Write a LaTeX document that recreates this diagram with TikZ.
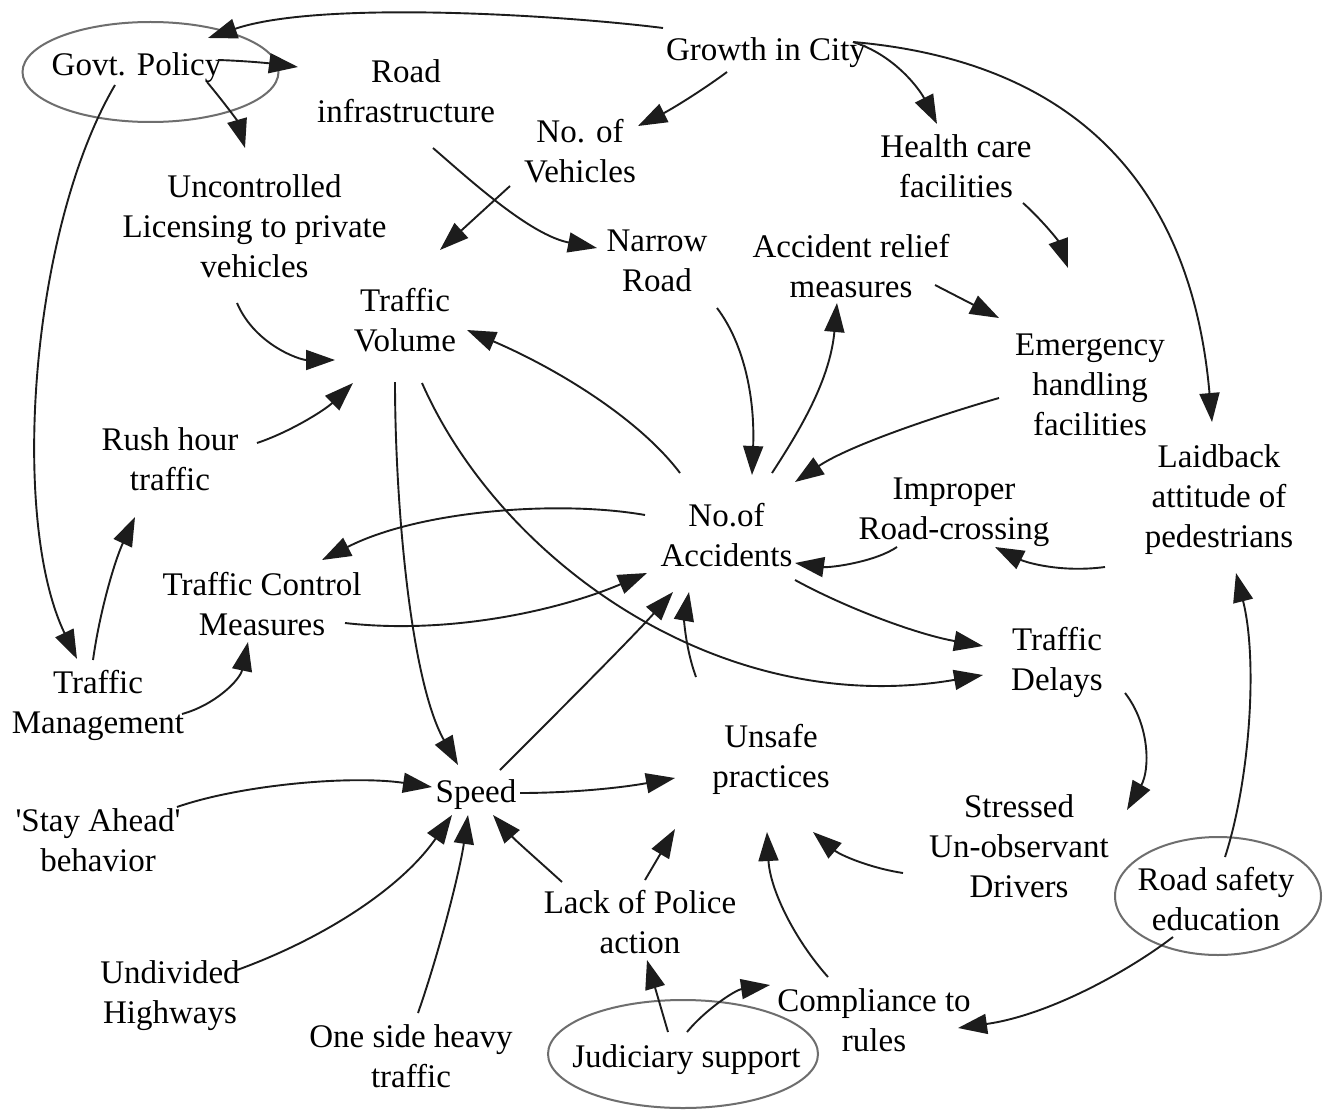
\documentclass[tikz,border=0pt]{standalone}
\usepackage{fontspec}
\setmainfont{Liberation Serif}[Ligatures=TeXOff]
\usetikzlibrary{arrows.meta,shapes.geometric}
\definecolor{linec}{HTML}{1C1C1C}
\definecolor{ovalc}{HTML}{6E6E6E}
\begin{document}
\begin{tikzpicture}[x=1pt,y=-1pt,
  lab/.style={align=center,inner sep=0pt,font=\fontsize{33}{40}\selectfont},
  oval/.style={ellipse,draw=ovalc,line width=2pt,inner sep=0pt},
  conn/.style={draw=linec,line width=1.9pt,-{Triangle[length=29pt,width=20pt]}}]
\useasboundingbox[fill=white] (0,0) rectangle (1330,1110);
% ellipses
\node[oval,minimum width=256pt,minimum height=100pt] (gpo) at (150.5,72) {};
\node[oval,minimum width=206pt,minimum height=118pt] (rso) at (1218,896) {};
\node[oval,minimum width=270pt,minimum height=108pt] (jso) at (683,1054) {};
% nodes
\node[lab] (gp) at (136.5,67.5) {Govt. Policy};
\node[lab] (ri) at (406,91) {Road\\infrastructure};
\node[lab] (gc) at (766,52.5) {Growth in City};
\node[lab] (nv) at (580,151) {No. of\\Vehicles};
\node[lab] (hc) at (956,166) {Health care\\facilities};
\node[lab] (ul) at (254.5,226) {Uncontrolled\\Licensing to private\\vehicles};
\node[lab] (nr) at (657,261) {Narrow\\Road};
\node[lab] (ar) at (851,266) {Accident relief\\measures};
\node[lab] (tv) at (405,320) {Traffic\\Volume};
\node[lab] (eh) at (1090,385) {Emergency\\handling\\facilities};
\node[lab] (rh) at (170,459) {Rush hour\\traffic};
\node[lab] (lb) at (1219,500) {Laidback\\attitude of\\pedestrians};
\node[lab] (ir) at (954,512.5) {Improper\\Road-crossing};
\node[lab] (na) at (726.5,535) {No.of\\Accidents};
\node[lab] (tc) at (262,604) {Traffic Control\\Measures};
\node[lab] (td) at (1057,662.5) {Traffic\\Delays};
\node[lab] (tm) at (98,705) {Traffic\\Management};
\node[lab] (us) at (771,759.5) {Unsafe\\practices};
\node[lab] (sp) at (476,794.5) {Speed};
\node[lab] (sa) at (98,840) {'Stay Ahead'\\behavior};
\node[lab] (sd) at (1019,846) {Stressed\\Un-observant\\Drivers};
\node[lab] (rs) at (1216,899) {Road safety\\education};
\node[lab] (lp) at (640,922) {Lack of Police\\action};
\node[lab] (uh) at (170,995.5) {Undivided\\Highways};
\node[lab] (cr) at (874,1020) {Compliance to\\rules};
\node[lab] (os) at (411,1056) {One side heavy\\traffic};
\node[lab] (js) at (686.5,1059.5) {Judiciary support};
% connectors
\draw[conn] ([shift={(-103,-24.5)}]gc.center) .. controls (560,15) and (320,0) .. ([shift={(71.5,-29.5)}]gp.center);
\draw[conn] ([shift={(81.5,-7.5)}]gp.center) .. controls (250,61) and (275,64) .. ([shift={(-108,-24)}]ri.center);
\draw[conn] ([shift={(70.5,14.5)}]gp.center) .. controls (222,100) and (237,120) .. ([shift={(-9.5,-78)}]ul.center);
\draw[conn] ([shift={(-21.5,17.5)}]gp.center) .. controls (30,230) and (10,520) .. ([shift={(-21,-46)}]tm.center);
\draw[conn] ([shift={(-39,19.5)}]gc.center) .. controls (700,92) and (670,110) .. ([shift={(58,-25)}]nv.center);
\draw[conn] ([shift={(87,-10.5)}]gc.center) .. controls (895,55) and (920,90) .. ([shift={(-19,-42)}]hc.center);
\draw[conn] ([shift={(87,-10.5)}]gc.center) .. controls (1060,60) and (1190,170) .. ([shift={(-7,-78)}]lb.center);
\draw[conn] ([shift={(-70,35)}]nv.center) -- ([shift={(35,-70)}]tv.center);
\draw[conn] ([shift={(27,57)}]ri.center) .. controls (470,180) and (530,235) .. ([shift={(-60,-13)}]nr.center);
\draw[conn] ([shift={(-17.5,77)}]ul.center) .. controls (255,345) and (300,360) .. ([shift={(-70,40)}]tv.center);
\draw[conn] ([shift={(67,37)}]hc.center) .. controls (1040,218) and (1058,240) .. ([shift={(-22,-117)}]eh.center);
\draw[conn] ([shift={(84,19)}]ar.center) -- ([shift={(-91,-67)}]eh.center);
\draw[conn] ([shift={(87,-16)}]rh.center) .. controls (290,432) and (325,410) .. ([shift={(-52,63)}]tv.center);
\draw[conn] ([shift={(-5,-45)}]tm.center) .. controls (100,610) and (115,560) .. ([shift={(-35,58)}]rh.center);
\draw[conn] ([shift={(60,47)}]nr.center) .. controls (745,345) and (755,400) .. ([shift={(25.5,-60)}]na.center);
\draw[conn] ([shift={(45.5,-62)}]na.center) .. controls (800,430) and (830,380) .. ([shift={(-14,37)}]ar.center);
\draw[conn] ([shift={(-91,13)}]eh.center) .. controls (940,415) and (850,445) .. ([shift={(68.5,-53)}]na.center);
\draw[conn] ([shift={(-46.5,-62)}]na.center) .. controls (640,420) and (560,370) .. ([shift={(62,10)}]tv.center);
\draw[conn] ([shift={(-81.5,-20)}]na.center) .. controls (560,500) and (420,510) .. ([shift={(60,-44)}]tc.center);
\draw[conn] ([shift={(83,19)}]tc.center) .. controls (450,635) and (560,610) .. ([shift={(-79.5,38)}]na.center);
\draw[conn] ([shift={(84,9)}]tm.center) .. controls (215,705) and (240,680) .. ([shift={(-14,38)}]tc.center);
\draw[conn] ([shift={(-10,62)}]tv.center) .. controls (395,500) and (410,680) .. ([shift={(-18,-29.5)}]sp.center);
\draw[conn] ([shift={(17,63)}]tv.center) .. controls (500,560) and (720,720) .. ([shift={(-74,12.5)}]td.center);
\draw[conn] ([shift={(68.5,45)}]na.center) .. controls (850,610) and (920,635) .. ([shift={(-74,-16.5)}]td.center);
\draw[conn] ([shift={(-57,34.5)}]ir.center) .. controls (875,562) and (830,568) .. ([shift={(68.5,28)}]na.center);
\draw[conn] ([shift={(-114,67)}]lb.center) .. controls (1060,573) and (1025,562) .. ([shift={(41,34.5)}]ir.center);
\draw[conn] ([shift={(24,-24.5)}]sp.center) .. controls (550,720) and (630,640) .. ([shift={(-53.5,57)}]na.center);
\draw[conn] ([shift={(-75,-82.5)}]us.center) .. controls (686,650) and (684,620) .. ([shift={(-37.5,57)}]na.center);
\draw[conn] ([shift={(44,-1.5)}]sp.center) .. controls (570,793) and (620,788) .. ([shift={(-96,18.5)}]us.center);
\draw[conn] ([shift={(79,-33)}]sa.center) .. controls (240,785) and (350,775) .. ([shift={(-44,-7.5)}]sp.center);
\draw[conn] ([shift={(67,-25.5)}]uh.center) .. controls (320,940) and (400,890) .. ([shift={(-24,20.5)}]sp.center);
\draw[conn] ([shift={(7,-43)}]os.center) .. controls (440,950) and (460,870) .. ([shift={(-8,20.5)}]sp.center);
\draw[conn] ([shift={(-78,-40)}]lp.center) .. controls (540,862) and (515,840) .. ([shift={(17,20.5)}]sp.center);
\draw[conn] ([shift={(5,-42)}]lp.center) -- ([shift={(-96,69.5)}]us.center);
\draw[conn] ([shift={(-46,-43)}]cr.center) .. controls (795,940) and (770,890) .. ([shift={(-4,72.5)}]us.center);
\draw[conn] ([shift={(-116,27)}]sd.center) .. controls (870,868) and (840,855) .. ([shift={(42,72.5)}]us.center);
\draw[conn] ([shift={(68,30.5)}]td.center) .. controls (1150,725) and (1150,770) .. ([shift={(108,-36)}]sd.center);
\draw[conn] ([shift={(9,-42)}]rs.center) .. controls (1250,780) and (1258,660) .. ([shift={(17,73)}]lb.center);
\draw[conn] ([shift={(-43,38)}]rs.center) .. controls (1130,970) and (1050,1015) .. ([shift={(84,8)}]cr.center);
\draw[conn] ([shift={(-18.5,-27.5)}]js.center) -- ([shift={(7,38)}]lp.center);
\draw[conn] ([shift={(0.5,-27.5)}]js.center) .. controls (705,1010) and (735,990) .. ([shift={(-104,-35)}]cr.center);
\end{tikzpicture}
\end{document}
